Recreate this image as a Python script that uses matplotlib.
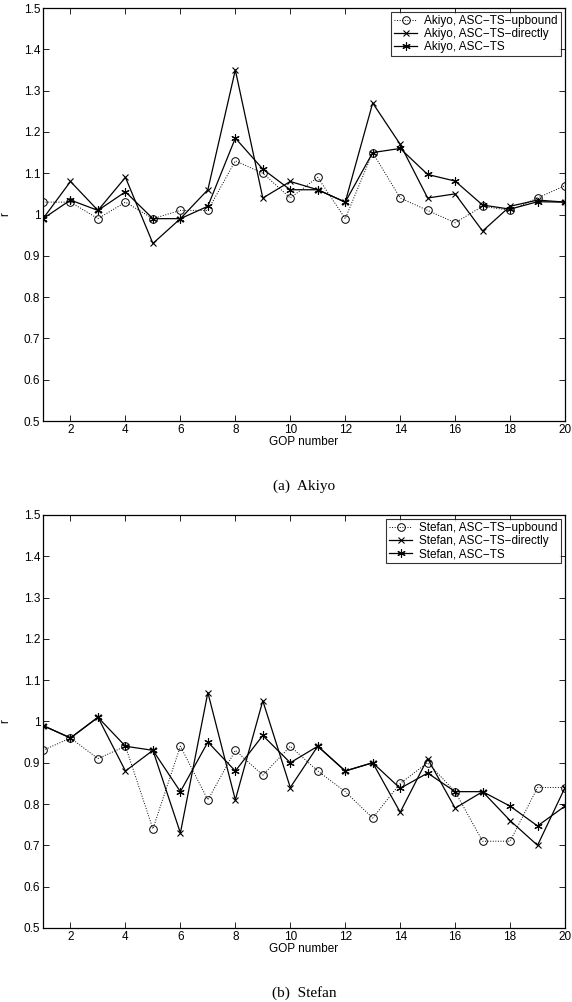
import numpy as np
import matplotlib.pyplot as plt

plt.rcParams['font.family'] = ['Liberation Sans', 'DejaVu Sans']

# GOP index
gop = np.arange(1, 21)

# Akiyo
akiyo_upbound = [1.03, 1.03, 0.99, 1.03, 0.99, 1.01, 1.01, 1.13, 1.10, 1.04,
                 1.09, 0.99, 1.15, 1.04, 1.01, 0.98, 1.02, 1.01, 1.04, 1.07]
akiyo_directly = [0.99, 1.08, 1.01, 1.09, 0.93, 0.99, 1.06, 1.35, 1.04, 1.08,
                  1.06, 1.03, 1.27, 1.17, 1.04, 1.05, 0.96, 1.02, 1.035, 1.03]
akiyo_ascts = [0.99, 1.035, 1.01, 1.055, 0.99, 0.99, 1.02, 1.185, 1.11, 1.06,
               1.06, 1.03, 1.15, 1.16, 1.097, 1.081, 1.023, 1.013, 1.031, 1.03]

# Stefan
stefan_upbound = [0.93, 0.96, 0.91, 0.94, 0.74, 0.94, 0.81, 0.93, 0.87, 0.94,
                  0.88, 0.83, 0.766, 0.85, 0.90, 0.83, 0.71, 0.71, 0.84, 0.84]
stefan_directly = [0.99, 0.96, 1.01, 0.88, 0.93, 0.73, 1.07, 0.81, 1.05, 0.84,
                   0.94, 0.88, 0.90, 0.78, 0.91, 0.79, 0.83, 0.76, 0.70, 0.84]
stefan_ascts = [0.99, 0.96, 1.01, 0.94, 0.93, 0.83, 0.95, 0.88, 0.966, 0.90,
                0.94, 0.88, 0.90, 0.838, 0.875, 0.83, 0.83, 0.795, 0.747, 0.795]

yticks = np.arange(0.5, 1.51, 0.1)
ytick_labels = ['0.5', '0.6', '0.7', '0.8', '0.9', '1', '1.1', '1.2', '1.3', '1.4', '1.5']
xticks = np.arange(2, 21, 2)

fig = plt.figure(figsize=(5.72, 10.02), dpi=100)
ax1 = fig.add_axes([0.0752, 0.5798, 0.9126, 0.4122])
ax2 = fig.add_axes([0.0752, 0.0739, 0.9126, 0.4122])


def draw(ax, name, up, direct, asc, caption):
    ax.plot(gop, up, ':', color='black', lw=0.7, marker='o', ms=5.5,
            mfc='none', mec='black', mew=0.7, label=name + ', ASC\u2212TS\u2212upbound')
    ax.plot(gop, direct, '-', color='black', lw=0.9, marker='x', ms=4.5,
            mew=0.8, label=name + ', ASC\u2212TS\u2212directly')
    ax.plot(gop, asc, '-', color='black', lw=0.9, marker=(6, 2, 0), ms=6,
            mew=0.8, label=name + ', ASC\u2212TS')
    ax.set_xlim(1, 20)
    ax.set_ylim(0.5, 1.5)
    ax.set_xticks(xticks)
    ax.set_xticklabels([str(t) for t in xticks])
    ax.set_yticks(yticks)
    ax.set_yticklabels(ytick_labels)
    ax.tick_params(direction='in', top=True, right=True, labelsize=8.5,
                   length=4, width=0.6, pad=2)
    for s in ax.spines.values():
        s.set_linewidth(0.9)
    ax.set_xlabel('GOP number', fontsize=8.5, labelpad=0)
    ax.set_ylabel('r', fontsize=8.5, labelpad=9)
    leg = ax.legend(loc='upper right', fontsize=8.5, frameon=True, fancybox=False,
                    borderaxespad=0.35, handlelength=2.0, borderpad=0.25,
                    labelspacing=0.1, handletextpad=0.6)
    leg.get_frame().set_edgecolor('black')
    leg.get_frame().set_linewidth(0.8)
    ax.text(0.5, -0.158, caption, transform=ax.transAxes, ha='center', va='center',
            fontsize=11, family='Liberation Serif')


draw(ax1, 'Akiyo', akiyo_upbound, akiyo_directly, akiyo_ascts, '(a)  Akiyo')
draw(ax2, 'Stefan', stefan_upbound, stefan_directly, stefan_ascts, '(b)  Stefan')

fig.savefig('out.png', dpi=100)
